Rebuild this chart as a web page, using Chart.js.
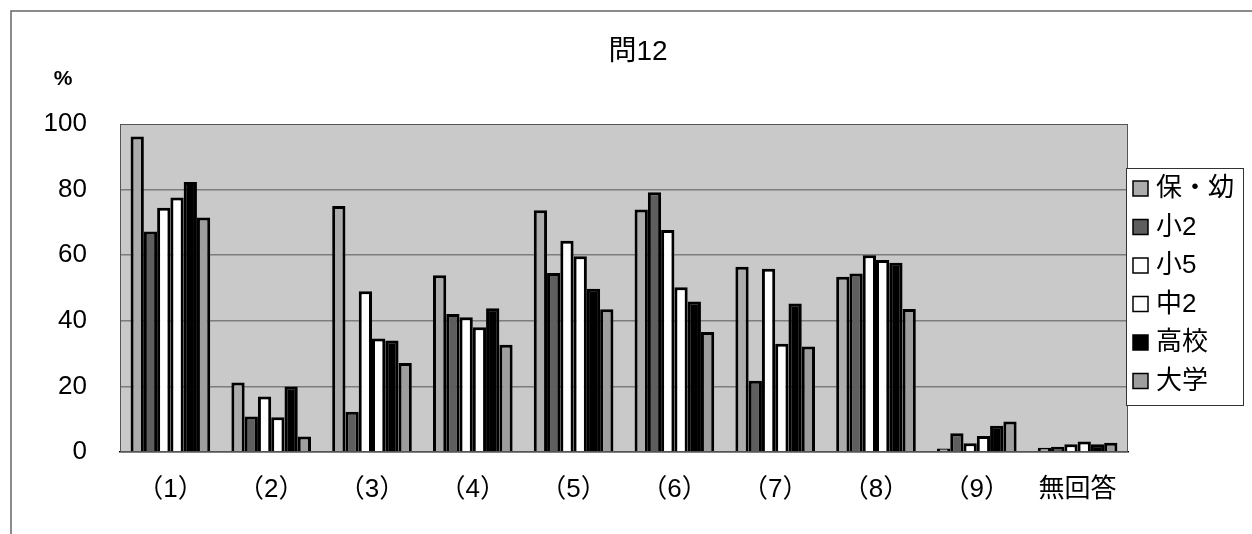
<!DOCTYPE html>
<html>
<head>
<meta charset="utf-8">
<script src="https://cdn.jsdelivr.net/npm/chart.js@4.4.1/dist/chart.umd.min.js"></script>
<style>
  html, body { margin: 0; padding: 0; background: #ffffff; }
  #wrap { width: 1252px; height: 534px; position: relative; }
</style>
</head>
<body>
<div id="wrap"><canvas id="c" width="1252" height="534"></canvas></div>
<script>
const categories = ['（1）', '（2）', '（3）', '（4）', '（5）', '（6）', '（7）', '（8）', '（9）', '無回答'];
const seriesNames = ['保・幼', '小2', '小5', '中2', '高校', '大学'];
const hoyo   = [96.2, 21.2, 75.0, 53.9, 73.7, 73.9, 56.5, 53.4, 1.1, 1.3];
const sho2   = [67.2, 10.8, 12.3, 42.1, 54.6, 79.2, 21.7, 54.4, 5.7, 1.6];
const sho5   = [74.5, 16.9, 49.0, 41.1, 64.4, 67.7, 55.9, 60.0, 2.7, 2.4];
const chu2   = [77.6, 10.6, 34.6, 38.0, 59.7, 50.2, 33.0, 58.5, 4.9, 3.2];
const koko   = [82.3, 20.0, 34.0, 43.8, 49.8, 45.9, 45.3, 57.7, 8.0, 2.4];
const daigaku= [71.5, 4.7, 27.1, 32.7, 43.5, 36.6, 32.2, 43.6, 9.3, 2.8];
const yTicks = [0, 20, 40, 60, 80, 100];
const titleText = '問12';
const unitText = '%';

const seriesValues = [hoyo, sho2, sho5, chu2, koko, daigaku];
const fills = ['#acacac', '#5e5e5e', '#ffffff', '#ffffff', '#000000', '#9e9e9e'];
const FONT = '"Liberation Sans", "Noto Sans CJK JP", sans-serif';

const decor = {
  id: 'decor',
  beforeDraw(chart) {
    const { ctx, chartArea: a } = chart;
    ctx.save();
    ctx.fillStyle = '#c9c9c9';
    ctx.fillRect(a.left, a.top, a.right - a.left, a.bottom - a.top);
    ctx.restore();
  },
  afterDraw(chart) {
    const { ctx, chartArea: a } = chart;
    ctx.save();
    ctx.strokeStyle = '#555';
    ctx.lineWidth = 1;
    ctx.strokeRect(a.left + 0.5, a.top + 0.5, a.right - a.left - 1, a.bottom - a.top - 1);
    ctx.strokeStyle = '#666';
    ctx.lineWidth = 1.5;
    ctx.beginPath();
    ctx.moveTo(11, 534); ctx.lineTo(11, 11); ctx.lineTo(1252, 11);
    ctx.stroke();
    ctx.fillStyle = '#000';
    ctx.textAlign = 'center';
    ctx.textBaseline = 'middle';
    ctx.font = '28px ' + FONT;
    ctx.fillText(titleText, 638, 52);
    ctx.font = 'bold 21px ' + FONT;
    ctx.fillText(unitText, 63, 79);
    const lx = 1126, ly = 168, lw = 117, lh = 237;
    ctx.fillStyle = '#fff';
    ctx.fillRect(lx, ly, lw, lh);
    ctx.strokeStyle = '#333';
    ctx.lineWidth = 1;
    ctx.strokeRect(lx + 0.5, ly + 0.5, lw, lh);
    ctx.font = '26px ' + FONT;
    ctx.textAlign = 'left';
    seriesNames.forEach((n, i) => {
      const cy = 188 + i * 38.5;
      ctx.fillStyle = fills[i];
      ctx.fillRect(1133, cy - 7, 15, 15);
      ctx.strokeStyle = '#000';
      ctx.lineWidth = 1.5;
      ctx.strokeRect(1133, cy - 7, 15, 15);
      ctx.fillStyle = '#000';
      ctx.fillText(n, 1156, cy + 1);
    });
    ctx.restore();
  }
};

new Chart(document.getElementById('c'), {
  type: 'bar',
  data: {
    labels: categories,
    datasets: seriesNames.map((n, i) => ({
      label: n,
      data: seriesValues[i],
      backgroundColor: fills[i],
      borderColor: '#000',
      borderWidth: 3,
      borderSkipped: 'bottom',
      barPercentage: 1.0,
      categoryPercentage: 0.79
    }))
  },
  options: {
    responsive: false,
    animation: false,
    devicePixelRatio: 1,
    layout: { padding: { left: 12, right: 124, top: 124, bottom: 20 } },
    plugins: { legend: { display: false }, title: { display: false }, tooltip: { enabled: false } },
    scales: {
      x: {
        grid: { display: false, drawTicks: false },
        border: { display: true, color: '#000', width: 1.5 },
        ticks: { color: '#000', font: { family: FONT, size: 26 }, padding: 22, maxRotation: 0, autoSkip: false },
        afterFit(s) { s.height = 62; }
      },
      y: {
        min: 0, max: 100,
        afterBuildTicks(s) { s.ticks = yTicks.map(v => ({ value: v })); },
        grid: { color: ctx => (ctx.tick && (ctx.tick.value === 0 || ctx.tick.value === 100)) ? 'rgba(0,0,0,0)' : '#7d7d7d', lineWidth: 1.5, drawTicks: false },
        border: { display: false },
        ticks: { color: '#000', font: { family: FONT, size: 26 }, padding: 33 },
        afterFit(s) { s.width = 108; }
      }
    }
  },
  plugins: [decor]
});
</script>
</body>
</html>
